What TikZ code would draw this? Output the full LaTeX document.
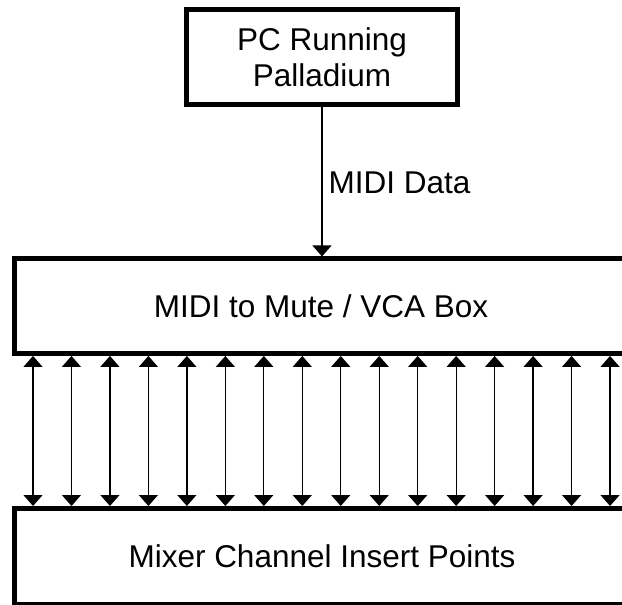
\documentclass[tikz,border=0pt]{standalone}
\usepackage{fontspec}
\setmainfont{Liberation Sans}
\usetikzlibrary{arrows.meta}
\tikzset{
  boxstyle/.style={draw, line width=5pt, rectangle, inner sep=0pt, align=center,
    font=\fontsize{31.5}{36}\selectfont},
  conn/.style={line width=1.3pt, -{Triangle[width=19pt,length=11pt]}},
  biconn/.style={line width=1.3pt, {Triangle[width=19pt,length=11pt]}-{Triangle[width=19pt,length=11pt]}},
  lbl/.style={font=\fontsize{31.5}{36}\selectfont, inner sep=0pt}
}
\begin{document}
\begin{tikzpicture}[x=1pt,y=-1pt]
\useasboundingbox (0,0) rectangle (622,605);
\clip (0,0) rectangle (622,605);
\fill[white] (0,0) rectangle (622,605);
\node[boxstyle, minimum width=271pt, minimum height=95pt] (pc) at (322,57) {PC Running\\Palladium};
\node[boxstyle, minimum width=614pt, minimum height=94.5pt] (mid) at (321,306.2) {MIDI to Mute / VCA Box};
\node[boxstyle, minimum width=616pt, minimum height=96pt] (bot) at (322,556.5) {Mixer Channel Insert Points};
\draw[conn] (pc.south) -- (mid.north -| pc.south)
  node[lbl, pos=0.51, anchor=west, xshift=6pt] (md) {MIDI Data};
\foreach \i in {0,...,15}{
  \pgfmathsetmacro\xx{33+38.47*\i}
  \coordinate (c\i) at (\xx,430);
  \draw[biconn] (mid.south -| c\i) -- (bot.north -| c\i);
}
\end{tikzpicture}
\end{document}
